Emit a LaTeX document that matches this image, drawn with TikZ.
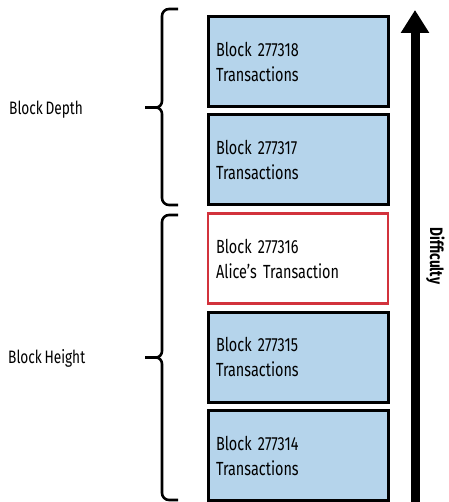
\documentclass[tikz,border=0pt]{standalone}
\usepackage{fontspec}
\setmainfont{Fira Sans}[FakeStretch=0.76, WordSpace=0.7, Numbers=Proportional]
\usetikzlibrary{arrows.meta}
\definecolor{blockfill}{HTML}{B5D4EB}
\definecolor{alicered}{HTML}{D2323C}
\tikzset{
  blockbox/.style={draw=black, line width=3pt, fill=blockfill,
    minimum width=180pt, minimum height=90pt, inner xsep=8pt, inner ysep=0pt,
    text width=164pt, align=left,
    font=\fontsize{19}{25}\selectfont},
  alicebox/.style={blockbox, draw=alicered, line width=2.2pt, fill=white},
  bracepath/.style={draw=black, line width=2.6pt, line cap=butt, line join=round},
  sidelabel/.style={font=\fontsize{18}{20}\selectfont, anchor=west, inner sep=0pt},
  diffarrow/.style={line width=9pt, -{Triangle[width=27pt,length=23pt]}},
}
\begin{document}
\frenchspacing
\begin{tikzpicture}[x=1pt, y=-1pt]
\useasboundingbox (0,0) rectangle (448,502);

% chain of blocks, newest at the top
\node[blockbox] (b18) at (298,61.5)  {Block 277318\\Transactions};
\node[blockbox] (b17) at (298,160)   {Block 277317\\Transactions};
\node[alicebox] (b16) at (298,258.5) {Block 277316\\Alice’s Transaction};
\node[blockbox] (b15) at (298,357)   {Block 277315\\Transactions};
\node[blockbox] (b14) at (298,455.5) {Block 277314\\Transactions};

% brace spanning the blocks above Alice's block
\draw[bracepath] (178,9) -- (169,9) to[out=180,in=90] (162,16) -- (162,101)
  to[out=-90,in=0] (156,107.5) -- (145,107.5);
\draw[bracepath] (145,107.5) -- (156,107.5) to[out=0,in=90] (162,114) -- (162,198)
  to[out=-90,in=180] (169,205) -- (178,205);
\node[sidelabel] (depth) at (9,110) {Block Depth};

% brace spanning Alice's block down to the oldest
\draw[bracepath] (178,215) -- (169,215) to[out=180,in=90] (162,222) -- (162,351)
  to[out=-90,in=0] (156,357.5) -- (145,357.5);
\draw[bracepath] (145,357.5) -- (156,357.5) to[out=0,in=90] (162,364) -- (162,493)
  to[out=-90,in=180] (169,500) -- (178,500);
\node[sidelabel] (height) at (8,358) {Block Height};

% difficulty grows upwards
\coordinate (dlow) at (415,510);
\coordinate (dhigh) at (415,10);
\draw[diffarrow] (dlow) -- (dhigh);
\node[font=\bfseries\fontsize{18}{20}\selectfont, rotate=-90, inner sep=0pt] (diff) at (435.5,256) {Difficulty};
\end{tikzpicture}
\end{document}
